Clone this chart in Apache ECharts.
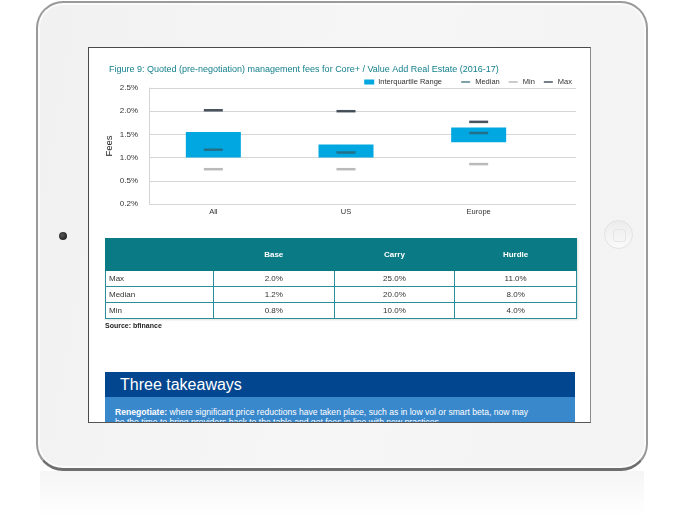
<!DOCTYPE html>
<html>
<head>
<meta charset="utf-8">
<script src="https://cdn.jsdelivr.net/npm/echarts@6/dist/echarts.min.js"></script>
<style>
  html,body{margin:0;padding:0;background:#fff;width:685px;height:522px;overflow:hidden;font-family:"Liberation Sans",Arial,Helvetica,sans-serif;}
  #reflect{position:absolute;left:40px;top:471px;width:604px;height:45px;
    background:linear-gradient(to bottom, rgba(235,235,235,0.5), rgba(255,255,255,0));}
  #body{position:absolute;left:36px;top:1px;width:608px;height:465px;border-radius:27px;
    background:linear-gradient(100deg,#f1f1f1 0%,#f6f6f6 50%,#f3f3f3 100%);
    border:2px solid #9a9a9a;border-bottom:3px solid #6e6e6e;box-shadow:inset 0 0 0 2px #fbfbfb;}
  #camera{position:absolute;left:59px;top:232px;width:8px;height:8px;border-radius:50%;background:radial-gradient(circle at 40% 40%,#555,#111);}
  #home{position:absolute;left:604px;top:220px;width:29px;height:29px;border-radius:50%;
    background:linear-gradient(to bottom,#ececec,#fafafa);border:1px solid #e2e2e2;box-sizing:border-box;}
  #home div{position:absolute;left:8px;top:8px;width:11px;height:11px;border:1px solid #e6e6e6;border-radius:3px;}
  #screen{position:absolute;left:88px;top:47px;width:503px;height:376px;background:#fff;overflow:hidden;
    border-top:1px solid #4a4a4a;border-left:1px solid #4a4a4a;border-right:1px solid #8a8a8a;border-bottom:1px solid #555;box-sizing:border-box;}
  #chart{position:absolute;left:-1px;top:-1px;width:503px;height:190px;}
  #tbl{position:absolute;left:16px;top:190px;width:472px;border-collapse:collapse;font-size:8px;color:#333;
    box-shadow:1px 1px 2px rgba(0,0,0,0.12);}
  #tbl th{background:#0a7a85;color:#fff;font-weight:bold;height:31px;padding:0;border:1px solid #0a7a85;}
  #tbl td{height:15px;padding:0;border:1px solid #2a8e98;text-align:center;}
  #tbl td.rn{text-align:left;padding-left:3px;}
  #src{position:absolute;left:16px;top:274px;font-size:7px;color:#222;font-weight:bold;}
  #take{position:absolute;left:16px;top:324px;width:470px;height:60px;background:#3a88cc;}
  #take .hd{height:25px;background:#02468f;color:#fff;font-size:16px;line-height:25px;padding-left:15px;}
  #take .tx{color:#fff;font-size:8.6px;padding:10px 0 0 10px;line-height:10px;white-space:nowrap;}
</style>
</head>
<body>
<div id="reflect"></div>
<div id="body"></div>
<div id="camera"></div>
<div id="home"><div></div></div>
<div id="screen">
  <div id="chart"></div>
  <table id="tbl"></table>
  <div id="src">Source: bfinance</div>
  <div id="take">
    <div class="hd">Three takeaways</div>
    <div class="tx"><b>Renegotiate:</b> where significant price reductions have taken place, such as in low vol or smart beta, now may<br>be the time to bring providers back to the table and get fees in line with new practices</div>
  </div>
</div>
<script>
const titleText = 'Figure 9: Quoted (pre-negotiation) management fees for Core+ / Value Add Real Estate (2016-17)';
const categories = ['All', 'US', 'Europe'];
const q1Values = [1.00, 1.00, 1.33];
const q3Values = [1.55, 1.28, 1.65];
const medianValues = [1.17, 1.11, 1.53];
const minValues = [0.75, 0.75, 0.86];
const maxValues = [2.02, 2.00, 1.77];
const yTickLabels = ['0.2%', '0.5%', '1.0%', '1.5%', '2.0%', '2.5%'];

const tableHeaders = ['', 'Base', 'Carry', 'Hurdle'];
const tableRowNames = ['Max', 'Median', 'Min'];
const tableBase = ['2.0%', '1.2%', '0.8%'];
const tableCarry = ['25.0%', '20.0%', '10.0%'];
const tableHurdle = ['11.0%', '8.0%', '4.0%'];

// build table
(function(){
  const t = document.getElementById('tbl');
  const colW = ['108px','121px','121px','122px'];
  let h = '<tr>' + tableHeaders.map((x,i)=>'<th style="width:'+colW[i]+'">'+x+'</th>').join('') + '</tr>';
  tableRowNames.forEach((r,i)=>{
    h += '<tr><td class="rn">'+r+'</td><td>'+tableBase[i]+'</td><td>'+tableCarry[i]+'</td><td>'+tableHurdle[i]+'</td></tr>';
  });
  t.innerHTML = h;
})();

const FONT = '"Liberation Sans", Arial, Helvetica, sans-serif';
const iqr = q3Values.map((v,i)=>+(v - q1Values[i]).toFixed(3));

const chart = echarts.init(document.getElementById('chart'));
chart.setOption({
  animation: false,
  textStyle: {fontFamily: FONT},
  title: {
    text: titleText, left: 16, top: 13,
    textStyle: {fontSize: 9, fontWeight: 'normal', color: '#137f8b', fontFamily: FONT}
  },
  legend: [
    {
      data: [{name: 'Interquartile Range', icon: 'rect'}],
      right: 144, top: 26, itemWidth: 10, itemHeight: 5, itemGap: 8,
      textStyle: {fontSize: 7.5, color: '#333', fontFamily: FONT, padding: [0,0,0,-1]}
    },
    {
      data: [{name: 'Median', icon: 'rect'}, {name: 'Min', icon: 'rect'}, {name: 'Max', icon: 'rect'}],
      right: 14, top: 26, itemWidth: 9, itemHeight: 1.5, itemGap: 9,
      textStyle: {fontSize: 7.5, color: '#333', fontFamily: FONT}
    }
  ],
  grid: [
    {left: 61, right: 15, top: 41, bottom: 33},
    {left: 59, right: 46, top: 41, bottom: 33}
  ],
  xAxis: [
    {gridIndex: 0, type: 'value', min: 0, max: 1, show: false},
    {gridIndex: 1, type: 'category', data: categories,
     axisLine: {show: false}, axisTick: {show: false},
     axisLabel: {fontSize: 7.5, color: '#333', margin: 4, fontFamily: FONT}}
  ],
  yAxis: [
    {gridIndex: 0, type: 'value', min: 0, max: 2.5, interval: 0.5,
     name: 'Fees', nameLocation: 'middle', nameGap: 35, nameRotate: 90, nameMoveOverlap: false,
     nameTextStyle: {fontSize: 9.5, color: '#222', fontFamily: FONT},
     axisLine: {show: true, lineStyle: {color: '#d4d4d4', width: 1}},
     axisTick: {show: false},
     axisLabel: {fontSize: 8, color: '#333', margin: 11, fontFamily: FONT,
       formatter: v => yTickLabels[Math.round(v / 0.5)]},
     splitLine: {lineStyle: {color: '#d6d6d6', width: 1}}},
    {gridIndex: 1, type: 'value', min: 0, max: 2.5, interval: 0.5, show: false,
     splitLine: {show: false}}
  ],
  series: [
    {name: 'base', type: 'bar', xAxisIndex: 1, yAxisIndex: 1, stack: 'box',
     data: q1Values, barWidth: 55, itemStyle: {color: 'rgba(0,0,0,0)'}, silent: true},
    {name: 'Interquartile Range', type: 'bar', xAxisIndex: 1, yAxisIndex: 1, stack: 'box',
     data: iqr, barWidth: 55, itemStyle: {color: '#00a7e0'}},
    {name: 'Median', type: 'scatter', xAxisIndex: 1, yAxisIndex: 1, data: medianValues,
     symbol: 'rect', symbolSize: [19, 2.5], itemStyle: {color: '#2a6373'}, z: 5},
    {name: 'Min', type: 'scatter', xAxisIndex: 1, yAxisIndex: 1, data: minValues,
     symbol: 'rect', symbolSize: [19, 2.5], itemStyle: {color: '#a9a9a9'}, z: 5},
    {name: 'Max', type: 'scatter', xAxisIndex: 1, yAxisIndex: 1, data: maxValues,
     symbol: 'rect', symbolSize: [19, 2.5], itemStyle: {color: '#1c2937'}, z: 5}
  ]
});
</script>
</body>
</html>
